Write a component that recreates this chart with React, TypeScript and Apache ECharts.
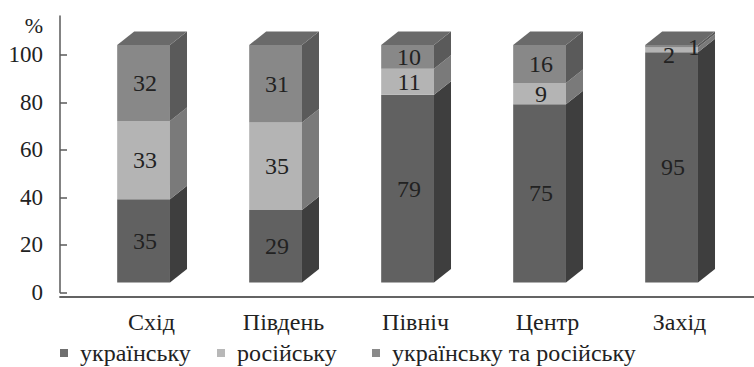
import React, { useEffect, useRef } from 'react';
import * as echarts from 'echarts';

// Language of communication by region, % of respondents (stacked to 100%)
const categories = ['Схід', 'Південь', 'Північ', 'Центр', 'Захід'];
const ukrainian = [35, 29, 79, 75, 95];
const russian = [33, 35, 11, 9, 2];
const both = [32, 31, 10, 16, 1];
const seriesNames = ['українську', 'російську', 'українську та російську'];
const yTickStep = 20;
const yTickMax = 100;

const FONT = 'Liberation Serif';
const TEXT = '#222222';
const AXIS = '#5a5a5a';

// front / side / top shades for each stacked segment
const faces = [
  { front: '#616161', side: '#3e3e3e', top: '#4e4e4e' },
  { front: '#b4b4b4', side: '#7a7a7a', top: '#9a9a9a' },
  { front: '#888888', side: '#5a5a5a', top: '#6a6a6a' },
];
const legendColors = ['#6f6f6f', '#b8b8b8', '#8a8a8a'];

// small nudges for labels on the thin slices
const labelNudge: Record<string, [number, number][]> = {
  'Захід': [[0, 0], [-4, 5], [21, 1]],
};

const seriesValues = [ukrainian, russian, both];

function geometry(api: any, i: number, s: number) {
  const vals = seriesValues.map((arr) => arr[i]);
  const total = vals.reduce((a, b) => a + b, 0);
  let lo = 0;
  for (let k = 0; k < s; k++) lo += vals[k];
  const hi = lo + vals[s];
  const pLo = (lo / total) * 100;
  const pHi = (hi / total) * 100;
  const band = api.size([1, 0])[0];
  const pLoPt = api.coord([i, pLo]);
  const pHiPt = api.coord([i, pHi]);
  const cx = pLoPt[0];
  const w = band * 0.4;
  const dx = band * 0.129;
  const dy = 13.5;
  const lift = 10;
  const shift = band * 0.06;
  const x0 = cx - shift - w / 2;
  const x1 = x0 + w;
  const yb = pLoPt[1] - lift;
  const yt = pHiPt[1] - lift;
  let topIdx = 0;
  vals.forEach((v, k) => {
    if (v > 0) topIdx = k;
  });
  return { x0, x1, yb, yt, dx, dy, isTop: s === topIdx, value: vals[s] };
}

const makeSegmentRender = (s: number) => (params: any, api: any) => {
  const i = api.value(0);
  const g = geometry(api, i, s);
  const f = faces[s];
  const children: any[] = [
    {
      type: 'rect',
      shape: { x: g.x0, y: g.yt, width: g.x1 - g.x0, height: g.yb - g.yt },
      style: { fill: f.front },
    },
    {
      type: 'polygon',
      shape: {
        points: [
          [g.x1, g.yb],
          [g.x1 + g.dx, g.yb - g.dy],
          [g.x1 + g.dx, g.yt - g.dy],
          [g.x1, g.yt],
        ],
      },
      style: { fill: f.side },
    },
  ];
  if (g.isTop) {
    children.push({
      type: 'polygon',
      shape: {
        points: [
          [g.x0, g.yt],
          [g.x0 + g.dx, g.yt - g.dy],
          [g.x1 + g.dx, g.yt - g.dy],
          [g.x1, g.yt],
        ],
      },
      style: { fill: f.top },
    });
  }
  return { type: 'group', children };
};

const renderLabels = (params: any, api: any) => {
  const i = api.value(0);
  const children: any[] = [];
  for (let s = 0; s < seriesValues.length; s++) {
    const g = geometry(api, i, s);
    if (!g.value) continue;
    const nudge = labelNudge[categories[i]]?.[s] ?? [0, 0];
    children.push({
      type: 'text',
      x: (g.x0 + g.x1) / 2 + 1.5 + nudge[0],
      y: (g.yb + g.yt) / 2 + nudge[1],
      style: {
        text: String(g.value),
        fill: TEXT,
        fontSize: 24,
        fontFamily: FONT,
        align: 'center',
        verticalAlign: 'middle',
      },
    });
  }
  return { type: 'group', children };
};

export default function App() {
  const ref = useRef<HTMLDivElement>(null);

  useEffect(() => {
    if (!ref.current) return;
    const chart = echarts.init(ref.current, undefined, { renderer: 'svg' });
    const idx = categories.map((_, i) => [i]);

    const legendLefts = [60, 217, 372];

    chart.setOption({
      animation: false,
      backgroundColor: '#ffffff',
      textStyle: { fontFamily: FONT },
      grid: [
        { left: 85.5, right: 8.5, top: 16, bottom: 74.5 },
        { left: 60, right: 0, top: 16, bottom: 70.5 },
      ],
      xAxis: [
        {
          type: 'category',
          gridIndex: 0,
          data: categories,
          boundaryGap: true,
          axisLine: { show: false },
          axisTick: { show: false },
          axisLabel: { color: TEXT, fontSize: 24, fontFamily: FONT, margin: 17 },
        },
        {
          type: 'value',
          gridIndex: 1,
          position: 'top',
          min: 0,
          max: 1,
          axisLine: { show: true, lineStyle: { color: AXIS, width: 1.5 } },
          axisTick: { show: false },
          axisLabel: { show: false },
          splitLine: { show: false },
        },
        {
          type: 'value',
          gridIndex: 1,
          position: 'bottom',
          min: 0,
          max: 1,
          axisLine: { show: true, lineStyle: { color: AXIS, width: 1.5 } },
          axisTick: { show: false },
          axisLabel: { show: false },
          splitLine: { show: false },
        },
      ],
      yAxis: [
        {
          type: 'value',
          gridIndex: 0,
          min: 0,
          max: 116.4,
          interval: yTickStep,
          offset: 25.5,
          axisLine: { show: true, lineStyle: { color: AXIS, width: 1.5 } },
          axisTick: { show: true, inside: true, length: 7, lineStyle: { color: AXIS, width: 1.5 } },
          axisLabel: {
            color: TEXT,
            fontSize: 23,
            fontFamily: FONT,
            margin: 17,
            showMaxLabel: false,
            formatter: (v: number) => (v % yTickStep === 0 && v <= yTickMax ? String(v) : ''),
          },
          splitLine: { show: false },
        },
        { type: 'value', gridIndex: 1, show: false, min: 0, max: 1 },
      ],
      legend: seriesNames.map((name, k) => ({
        data: [{ name, icon: 'rect' }],
        left: legendLefts[k],
        top: 341,
        itemWidth: 8,
        itemHeight: 8,
        itemGap: 0,
        padding: 0,
        selectedMode: false,
        textStyle: { color: TEXT, fontSize: 24, fontFamily: FONT, padding: [0, 0, 0, 7] },
      })),
      graphic: [
        {
          type: 'text',
          x: 34,
          y: 25,
          style: {
            text: '%',
            fill: TEXT,
            fontSize: 22,
            fontFamily: FONT,
            align: 'center',
            verticalAlign: 'middle',
          },
        },
      ],
      series: [
        ...seriesNames.map((name, s) => ({
          type: 'custom',
          name,
          xAxisIndex: 0,
          yAxisIndex: 0,
          itemStyle: { color: legendColors[s] },
          data: idx,
          encode: { x: 0 },
          renderItem: makeSegmentRender(s),
          z: 2,
        })),
        {
          type: 'custom',
          name: 'labels',
          xAxisIndex: 0,
          yAxisIndex: 0,
          data: idx,
          encode: { x: 0 },
          renderItem: renderLabels,
          z: 10,
          silent: true,
        },
      ],
    });

    return () => chart.dispose();
  }, []);

  return (
    <div
      ref={ref}
      style={{ position: 'fixed', left: 0, top: 0, width: 754, height: 367, background: '#fff' }}
    />
  );
}
